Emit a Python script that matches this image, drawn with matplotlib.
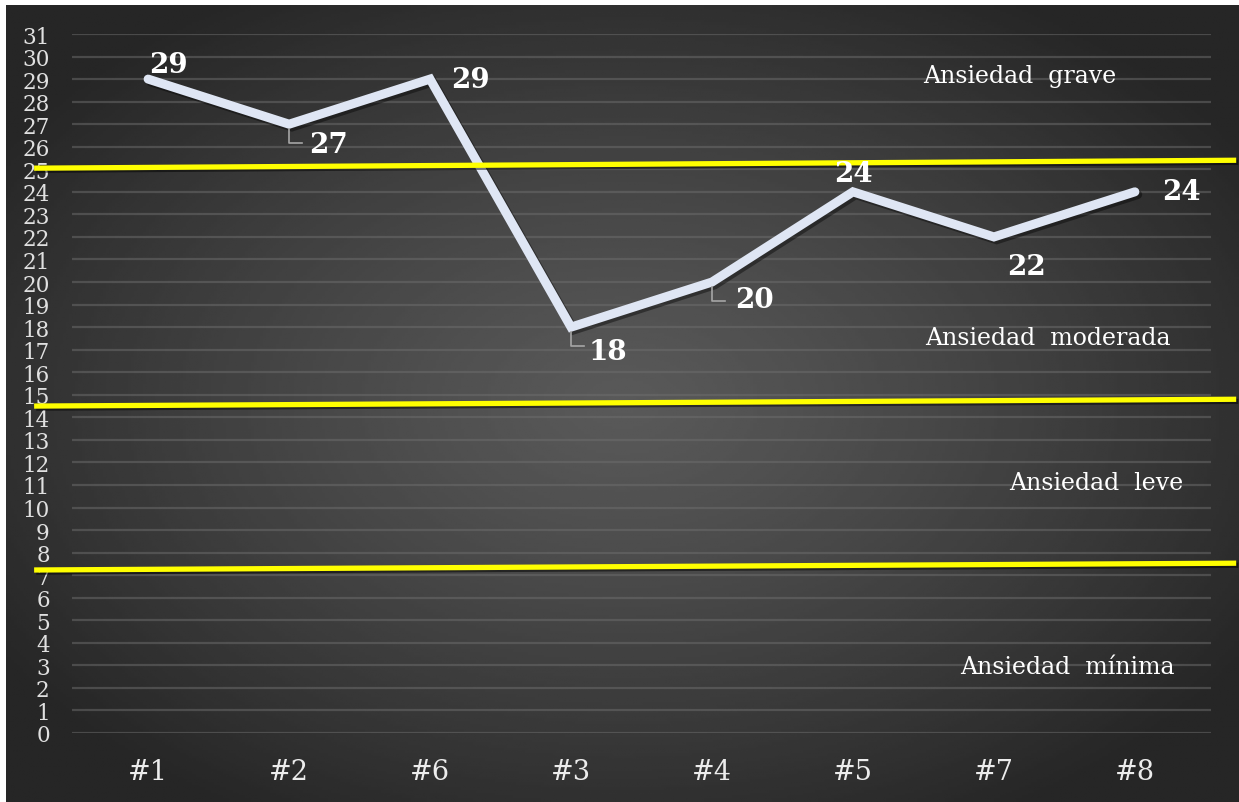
import numpy as np
import matplotlib
matplotlib.use('Agg')
import matplotlib.pyplot as plt
import matplotlib.transforms as mtransforms
import matplotlib.patheffects as pe

# datos
categories = ['#1', '#2', '#6', '#3', '#4', '#5', '#7', '#8']
scores = [29, 27, 29, 18, 20, 24, 22, 24]

# umbrales (ligeramente inclinados, dibujados a mano)
thresholds_left = [25.05, 14.5, 7.23]
thresholds_right = [25.4, 14.8, 7.53]

zone_labels = ['Ansiedad  grave', 'Ansiedad  moderada', 'Ansiedad  leve', 'Ansiedad  mínima']
zone_label_y = [29.18, 17.56, 11.09, 2.93]
zone_label_x = [5.50, 5.51, 6.11, 5.76]

# desplazamiento de etiquetas en pixeles (dx, dy) y si llevan guia
label_offsets = [(20, 15), (39, -20), (40, 0), (37, -24), (42, -17), (0, 18), (33, -30), (47, 0)]
has_leader = [False, True, False, True, True, False, False, False]

W, H = 1239, 803
fig = plt.figure(figsize=(W / 100, H / 100), dpi=100)
fig.patch.set_facecolor('white')

# fondo con degradado radial
bg = fig.add_axes([6 / W, 0, 1 - 6 / W, 1 - 6 / H])
gx, gy = np.meshgrid(np.linspace(-1, 1, 400), np.linspace(-1, 1, 300))
r = np.clip(np.sqrt(gx ** 2 + gy ** 2) / 1.2, 0, 1)
vals = 0.35 - (0.35 - 0.15) * r ** 1.2
bg.imshow(vals, cmap='gray', vmin=0, vmax=1, aspect='auto', extent=[0, 1, 0, 1])
bg.set_axis_off()

ax = fig.add_axes([72 / W, (H - 734) / H, (1211 - 72) / W, (734 - 35) / H])
ax.patch.set_alpha(0)
x = np.arange(len(categories))

ax.set_xlim(-0.54, 7.54)
ax.set_ylim(0, 31)
ax.set_yticks(range(0, 32))
ax.set_xticks(x)
ax.set_xticklabels(categories)
for s in ax.spines.values():
    s.set_visible(False)
ax.tick_params(axis='y', length=0, pad=16, labelsize=15.5, labelcolor='#e0e0e0')
ax.tick_params(axis='x', length=0, pad=18, labelsize=19.5, labelcolor='#ececec')
for lab in ax.get_yticklabels() + ax.get_xticklabels():
    lab.set_family('DejaVu Serif')
ax.grid(axis='y', color='#6e6e6e', linewidth=1.6, alpha=0.5)
ax.grid(axis='x', visible=False)
ax.set_axisbelow(True)

# linea de datos con sombra
ax.plot(x, scores, color='#dfe6f4', linewidth=6.5, solid_capstyle='round',
        solid_joinstyle='miter', zorder=4,
        path_effects=[pe.SimpleLineShadow(offset=(2, -2), alpha=0.4, shadow_color='black'), pe.Normal()])

# lineas amarillas de corte
for yl, yr in zip(thresholds_left, thresholds_right):
    ax.plot([-0.79, 7.70], [yl, yr], color='#ffff00', linewidth=3.8, clip_on=False, zorder=5,
            path_effects=[pe.SimpleLineShadow(offset=(1.5, -1.5), alpha=0.5, shadow_color='black'), pe.Normal()])

# etiquetas de zonas
for txt, xx, yy in zip(zone_labels, zone_label_x, zone_label_y):
    ax.text(xx, yy, txt, color='white', fontsize=17, family='DejaVu Serif',
            ha='left', va='center', zorder=6)

# etiquetas de valores (desplazadas en pixeles)
def px(dx, dy):
    return ax.transData + mtransforms.ScaledTranslation(dx / 100, dy / 100, fig.dpi_scale_trans)

for xi, yi, (dx, dy), lead in zip(x, scores, label_offsets, has_leader):
    ax.text(xi, yi, str(yi), transform=px(dx, dy), color='white', fontsize=20,
            fontweight='bold', family='DejaVu Serif', ha='center', va='center', zorder=7)
    if lead:
        # guia en forma de L, en pixeles desde el punto
        tr = mtransforms.ScaledTranslation(xi, yi, ax.transData)
        ax.add_line(plt.Line2D([0, 0, 13], [-5, -19, -19], color='#a6a6a6', linewidth=1.2,
                               transform=tr, zorder=6))

fig.savefig('out.png', dpi=100)
